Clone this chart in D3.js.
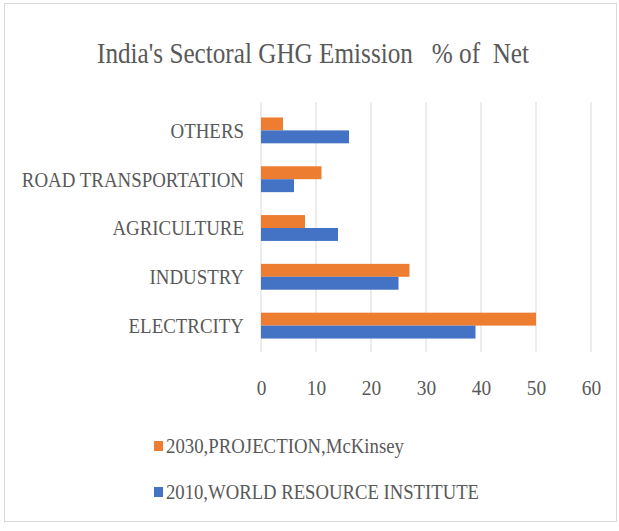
<!DOCTYPE html>
<html>
<head>
<meta charset="utf-8">
<script src="https://cdn.jsdelivr.net/npm/d3@7"></script>
<style>
  html, body { margin: 0; padding: 0; background: #fff; }
  svg { display: block; }
  text { font-family: "Liberation Serif", "Times New Roman", serif; fill: #595959; }
</style>
</head>
<body>
<svg id="chart" width="619" height="531"></svg>
<script>
const categories = ["OTHERS", "ROAD TRANSPORTATION", "AGRICULTURE", "INDUSTRY", "ELECTRCITY"];
const seriesNames = ["2030,PROJECTION,McKinsey", "2010,WORLD RESOURCE INSTITUTE"];
const projection2030 = [4, 11, 8, 27, 50];
const wri2010 = [16, 6, 14, 25, 39];
const xTicks = [0, 10, 20, 30, 40, 50, 60];
const titleText = "India's Sectoral GHG Emission \u00A0 % of \u00A0Net";

const colors = ["#ED7D31", "#4472C4"];
const seriesValues = [projection2030, wri2010];

const svg = d3.select("#chart");

// outer border
svg.append("rect")
  .attr("x", 4.5).attr("y", 3.5).attr("width", 612).attr("height", 518)
  .attr("fill", "#fff").attr("stroke", "#d9d9d9").attr("stroke-width", 1);

// title
svg.append("text")
  .attr("x", 313).attr("y", 63)
  .attr("text-anchor", "middle")
  .attr("font-size", 30)
  .attr("textLength", 432)
  .attr("lengthAdjust", "spacingAndGlyphs")
  .text(titleText);

const x = d3.scaleLinear().domain([0, 60]).range([261, 591]);
const y = d3.scaleBand().domain(categories).range([106, 350])
  .paddingInner(0.47).paddingOuter(0.235);
const sub = d3.scaleBand().domain([0, 1]).range([0, y.bandwidth()]);

// gridlines
svg.append("g").selectAll("line").data(xTicks).join("line")
  .attr("x1", d => x(d)).attr("x2", d => x(d))
  .attr("y1", 102).attr("y2", 352)
  .attr("stroke", "#d9d9d9").attr("stroke-width", 1);

// bars
const rows = categories.map((c, i) => ({ c, vals: seriesValues.map(s => s[i]) }));
const g = svg.append("g");
rows.forEach(r => {
  r.vals.forEach((v, si) => {
    g.append("rect")
      .attr("x", x(0))
      .attr("y", y(r.c) + sub(si))
      .attr("width", x(v) - x(0))
      .attr("height", sub.bandwidth())
      .attr("fill", colors[si]);
  });
});

// category axis labels
const yAxis = d3.axisLeft(y).tickSize(0).tickPadding(0);
const ya = svg.append("g").attr("transform", "translate(244,0)").call(yAxis);
ya.select(".domain").remove();
ya.selectAll("text")
  .attr("font-size", 21)
  .attr("font-family", "'Liberation Serif', serif")
  .attr("fill", "#595959")
  .attr("dy", "0.35em")
  .attr("transform", "scale(0.9,1)");

// x axis labels
const xAxis = d3.axisBottom(x).tickValues(xTicks).tickSize(0).tickPadding(0);
const xa = svg.append("g").attr("transform", "translate(0,387)").call(xAxis);
xa.select(".domain").remove();
xa.selectAll("text")
  .attr("font-size", 22)
  .attr("font-family", "'Liberation Serif', serif")
  .attr("fill", "#595959")
  .attr("y", 0)
  .attr("dy", "0.35em")
  .attr("transform", "scale(0.88,1)");

// legend
const legendY = [446, 492];
const legendW = [238, 313];
const lg = svg.append("g");
seriesNames.forEach((name, i) => {
  lg.append("rect")
    .attr("x", 154).attr("y", legendY[i] - 5)
    .attr("width", 9).attr("height", 10)
    .attr("fill", colors[i]);
  lg.append("text")
    .attr("x", 166).attr("y", legendY[i])
    .attr("dy", "0.35em")
    .attr("font-size", 21)
    .attr("textLength", legendW[i])
    .attr("lengthAdjust", "spacingAndGlyphs")
    .text(name);
});
</script>
</body>
</html>
